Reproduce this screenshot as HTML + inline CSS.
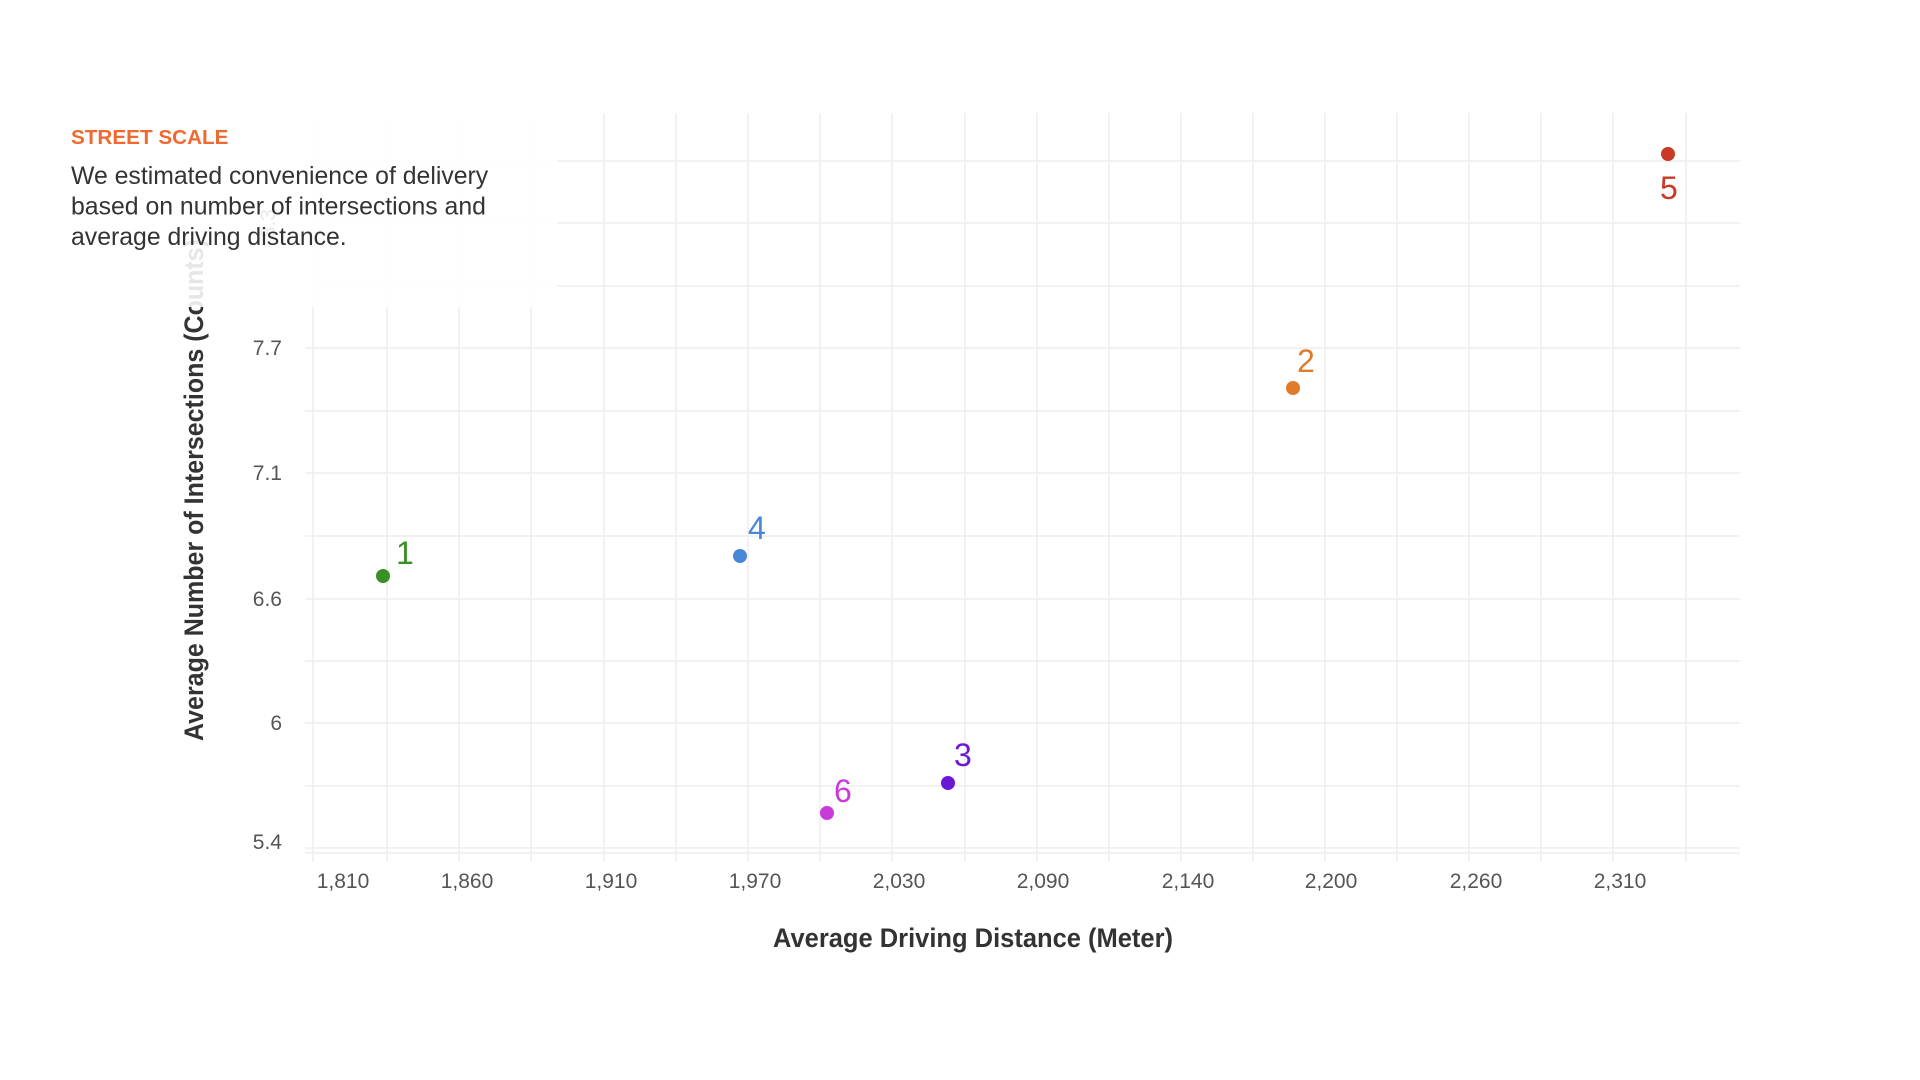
<!DOCTYPE html>
<html><head><meta charset="utf-8"><style>
html,body{margin:0;padding:0;background:#fff;}
svg{display:block;}
</style></head><body>
<svg width="1920" height="1080" xmlns="http://www.w3.org/2000/svg" font-family="Liberation Sans, sans-serif">
<rect width="1920" height="1080" fill="#fff"/>
<g stroke="#eeeeee" stroke-width="1.5">
<line x1="313" y1="113" x2="313" y2="862"/>
<line x1="387" y1="113" x2="387" y2="862"/><line x1="459" y1="113" x2="459" y2="862"/><line x1="531" y1="113" x2="531" y2="862"/><line x1="604" y1="113" x2="604" y2="862"/><line x1="676" y1="113" x2="676" y2="862"/><line x1="748" y1="113" x2="748" y2="862"/><line x1="820" y1="113" x2="820" y2="862"/><line x1="892" y1="113" x2="892" y2="862"/><line x1="965" y1="113" x2="965" y2="862"/><line x1="1037" y1="113" x2="1037" y2="862"/><line x1="1109" y1="113" x2="1109" y2="862"/><line x1="1181" y1="113" x2="1181" y2="862"/><line x1="1253" y1="113" x2="1253" y2="862"/><line x1="1325" y1="113" x2="1325" y2="862"/><line x1="1397" y1="113" x2="1397" y2="862"/><line x1="1469" y1="113" x2="1469" y2="862"/><line x1="1541" y1="113" x2="1541" y2="862"/><line x1="1613" y1="113" x2="1613" y2="862"/><line x1="1686" y1="113" x2="1686" y2="862"/>
<line x1="305" y1="161" x2="1740" y2="161"/><line x1="305" y1="223" x2="1740" y2="223"/><line x1="305" y1="286" x2="1740" y2="286"/><line x1="305" y1="348" x2="1740" y2="348"/><line x1="305" y1="411" x2="1740" y2="411"/><line x1="305" y1="473" x2="1740" y2="473"/><line x1="305" y1="536" x2="1740" y2="536"/><line x1="305" y1="599" x2="1740" y2="599"/><line x1="305" y1="661" x2="1740" y2="661"/><line x1="305" y1="723" x2="1740" y2="723"/><line x1="305" y1="786" x2="1740" y2="786"/><line x1="305" y1="848" x2="1740" y2="848"/><line x1="305" y1="853" x2="1740" y2="853"/>
</g>
<g fill="#555" font-size="21" text-anchor="end">
<text x="282" y="355">7.7</text><text x="282" y="480">7.1</text><text x="282" y="606">6.6</text><text x="282" y="730">6</text><text x="282" y="849">5.4</text>
<text x="282" y="230" transform="rotate(-90 268 223)">8.3</text>
</g>
<g fill="#555" font-size="21" text-anchor="middle">
<text x="343" y="888">1,810</text><text x="467" y="888">1,860</text><text x="611" y="888">1,910</text><text x="755" y="888">1,970</text><text x="899" y="888">2,030</text><text x="1043" y="888">2,090</text><text x="1188" y="888">2,140</text><text x="1331" y="888">2,200</text><text x="1476" y="888">2,260</text><text x="1620" y="888">2,310</text>
</g>
<text x="973" y="947" text-anchor="middle" font-size="27" font-weight="bold" fill="#333" textLength="400" lengthAdjust="spacingAndGlyphs">Average Driving Distance (Meter)</text>
<text transform="translate(203 490) rotate(-90)" text-anchor="middle" font-size="27" font-weight="bold" fill="#333" textLength="502" lengthAdjust="spacingAndGlyphs">Average Number of Intersections (Counts)</text>
<rect x="0" y="0" width="557" height="307" fill="#fff" fill-opacity="0.88"/>
<text x="71" y="144" font-size="20.7" font-weight="bold" fill="#ef6a30">STREET SCALE</text>
<g font-size="24.8" fill="#333">
<text x="71" y="184">We estimated convenience of delivery</text>
<text x="71" y="214.5">based on number of intersections and</text>
<text x="71" y="245">average driving distance.</text>
</g>
<g font-size="32">
<circle cx="383" cy="576" r="7" fill="#3a8f25"/><text x="396" y="564" fill="#3a8f25">1</text>
<circle cx="740" cy="556" r="7" fill="#4a87d8"/><text x="748" y="539" fill="#4a87d8">4</text>
<circle cx="1293" cy="388" r="7" fill="#e07b2a"/><text x="1297" y="372" fill="#e07b2a">2</text>
<circle cx="1668" cy="154" r="7" fill="#c83a26"/><text x="1660" y="199" fill="#c83a26">5</text>
<circle cx="948" cy="783" r="7" fill="#6a18d4"/><text x="954" y="766" fill="#6a18d4">3</text>
<circle cx="827" cy="813" r="7" fill="#c93ad8"/><text x="834" y="802" fill="#c93ad8">6</text>
</g>
</svg>
</body></html>
